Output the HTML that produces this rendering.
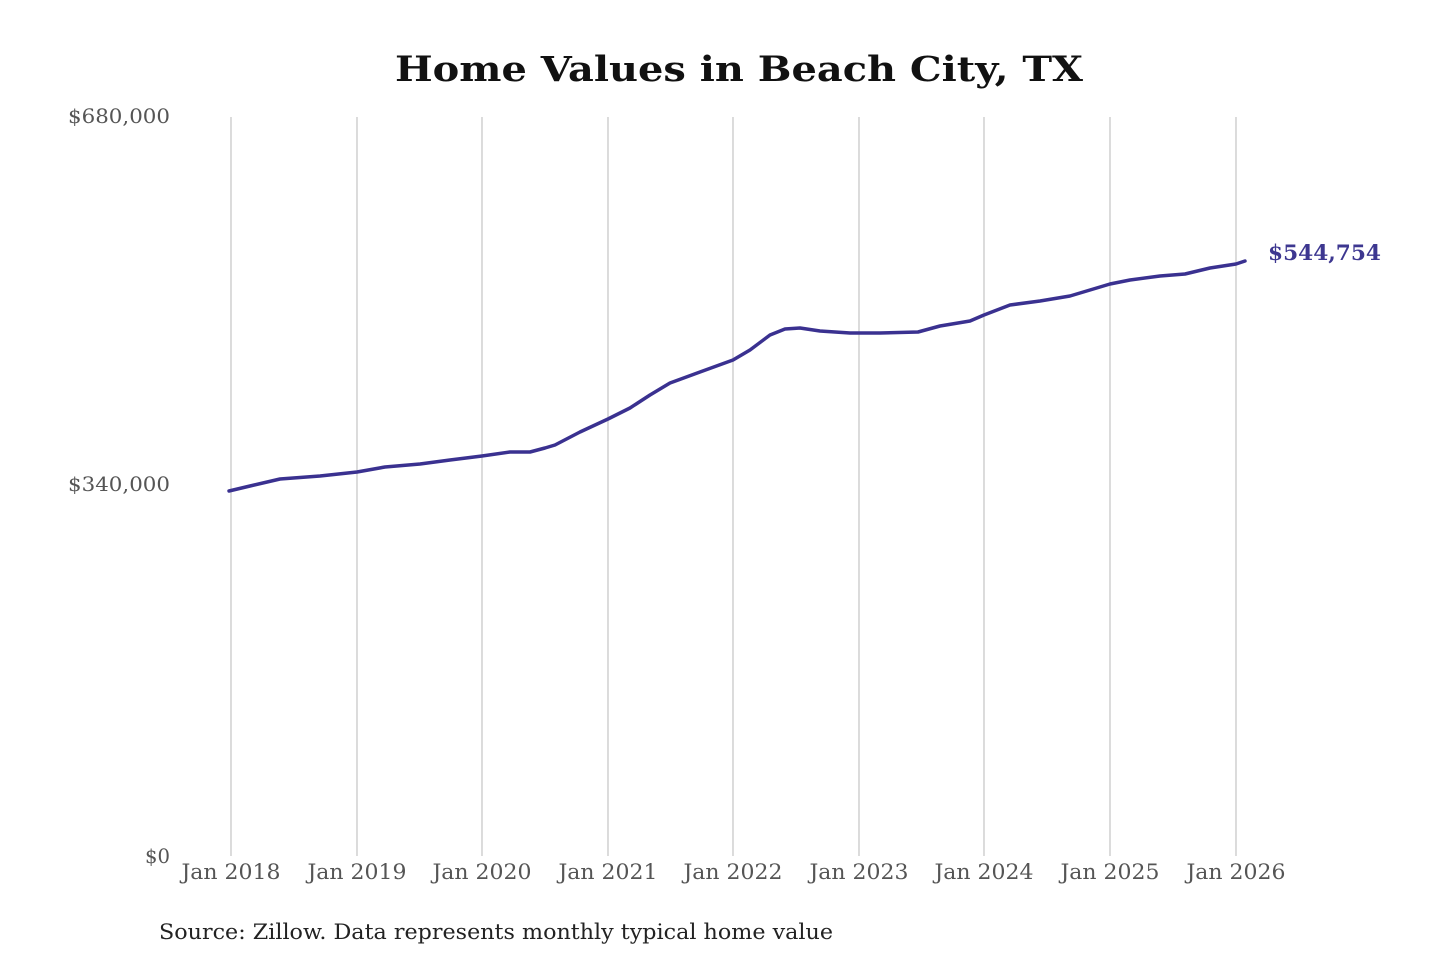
<!DOCTYPE html>
<html><head><meta charset="utf-8"><style>
html,body{margin:0;padding:0;background:#fff;width:1440px;height:960px;overflow:hidden}
</style></head><body>
<svg width="1440" height="960" viewBox="0 0 1440 960" xmlns="http://www.w3.org/2000/svg">
<text x="739" y="81" text-anchor="middle" font-family="DejaVu Serif, serif" font-weight="bold" font-size="35" fill="#111" textLength="688" lengthAdjust="spacingAndGlyphs">Home Values in Beach City, TX</text>
<g stroke="#c8c8c8" stroke-width="1.3">
<line x1="231" y1="117" x2="231" y2="856"/><line x1="357" y1="117" x2="357" y2="856"/>
<line x1="482" y1="117" x2="482" y2="856"/><line x1="608" y1="117" x2="608" y2="856"/>
<line x1="733" y1="117" x2="733" y2="856"/><line x1="859" y1="117" x2="859" y2="856"/>
<line x1="984" y1="117" x2="984" y2="856"/><line x1="1110" y1="117" x2="1110" y2="856"/>
<line x1="1236" y1="117" x2="1236" y2="856"/>
</g>
<g font-family="DejaVu Serif, serif" font-size="20" fill="#555" text-anchor="end">
<text x="170" y="123" textLength="102" lengthAdjust="spacingAndGlyphs">$680,000</text>
<text x="170" y="491" textLength="102" lengthAdjust="spacingAndGlyphs">$340,000</text>
<text x="170" y="863" textLength="25" lengthAdjust="spacingAndGlyphs">$0</text>
</g>
<g font-family="DejaVu Serif, serif" font-size="21" fill="#555" text-anchor="middle">
<text x="231" y="879" textLength="99" lengthAdjust="spacingAndGlyphs">Jan 2018</text>
<text x="357" y="879" textLength="99" lengthAdjust="spacingAndGlyphs">Jan 2019</text>
<text x="482" y="879" textLength="99" lengthAdjust="spacingAndGlyphs">Jan 2020</text>
<text x="608" y="879" textLength="99" lengthAdjust="spacingAndGlyphs">Jan 2021</text>
<text x="733" y="879" textLength="99" lengthAdjust="spacingAndGlyphs">Jan 2022</text>
<text x="859" y="879" textLength="99" lengthAdjust="spacingAndGlyphs">Jan 2023</text>
<text x="984" y="879" textLength="99" lengthAdjust="spacingAndGlyphs">Jan 2024</text>
<text x="1110" y="879" textLength="99" lengthAdjust="spacingAndGlyphs">Jan 2025</text>
<text x="1236" y="879" textLength="99" lengthAdjust="spacingAndGlyphs">Jan 2026</text>
</g>
<polyline fill="none" stroke="#3a3190" stroke-width="3.5" stroke-linejoin="round" stroke-linecap="round"
points="229,491 250,486 280,479 320,476 357,472 385,467 420,464 450,460 482,456 510,452 530,452 545,448 555,445 580,432 608,419 630,408 650,395 670,383 700,372 733,360 750,350 770,335 785,329 800,328 820,331 850,333 880,333 918,332 940,326 970,321 984,315 1010,305 1040,301 1070,296 1090,290 1110,284 1130,280 1160,276 1185,274 1210,268 1236,264 1245,261"/>
<text x="1268" y="260" font-family="DejaVu Serif, serif" font-weight="bold" font-size="21" fill="#3d3790" textLength="113" lengthAdjust="spacingAndGlyphs">$544,754</text>
<text x="159" y="939" font-family="DejaVu Serif, serif" font-size="21" fill="#222" textLength="674" lengthAdjust="spacingAndGlyphs">Source: Zillow. Data represents monthly typical home value</text>
</svg>
</body></html>
